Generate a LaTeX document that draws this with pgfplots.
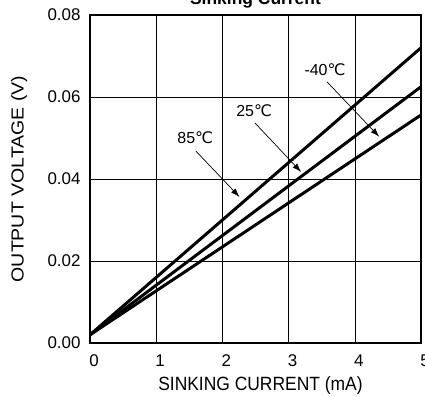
\documentclass[border=0pt]{standalone}
\usepackage{fontspec}
\setmainfont{Liberation Sans}
\newfontfamily\dejavu{DejaVu Sans}
\usepackage{pgfplots}
\pgfplotsset{compat=1.18}
\usetikzlibrary{arrows.meta}
\newcommand{\degC}{{\dejavu ℃}}

\begin{document}
\begin{tikzpicture}
  \begin{axis}[
    scale only axis,
    width=331bp, height=328bp,
    xmin=0, xmax=5, ymin=0, ymax=0.08,
    xtick={0,1,2,3,4,5},
    ytick={0,0.02,0.04,0.06,0.08},
    scaled y ticks=false,
    grid=major,
    major grid style={black, line width=0.6pt},
    axis line style={line width=1.3pt},
    major tick length=0pt,
    tick label style={font=\fontsize{17}{19}\selectfont},
    label style={font=\fontsize{17.5}{20}\selectfont},
    /pgf/number format/assume math mode=true,
    y tick label style={/pgf/number format/fixed, /pgf/number format/fixed zerofill, /pgf/number format/precision=2, anchor=east, xshift=-6bp},
    x tick label style={anchor=center, yshift=-18bp, xshift=4bp},
    xlabel={\scalebox{1}[1.1]{SINKING CURRENT (mA)}},
    ylabel={\scalebox{1.12}[1]{OUTPUT VOLTAGE (V)}},
    xlabel style={at={(axis description cs:0.515,-0.131)}, anchor=center},
    ylabel style={at={(axis description cs:-0.2145,0.5)}, anchor=center},
    title={\textbf{Sinking Current}},
    title style={yshift=-3bp, font=\fontsize{17.5}{20}\selectfont},
    clip=false,
  ]
    % 85 C
    \addplot[black, line width=3pt] coordinates {(0,0.002) (5,0.0720)};
    % 25 C
    \addplot[black, line width=3pt] coordinates {(0,0.002) (5,0.0625)};
    % -40 C
    \addplot[black, line width=3pt] coordinates {(0,0.002) (5,0.0556)};

    \node[font=\fontsize{16}{18}\selectfont] at (axis cs:1.59,0.0500) {85\degC};
    \draw[-{Latex[length=9bp,width=6bp]}, line width=0.7pt] (axis cs:1.60,0.0468) -- (axis cs:2.26,0.0356);
    \node[font=\fontsize{16}{18}\selectfont] at (axis cs:2.48,0.0566) {25\degC};
    \draw[-{Latex[length=9bp,width=6bp]}, line width=0.7pt] (axis cs:2.49,0.0537) -- (axis cs:3.19,0.0417);
    \node[font=\fontsize{16}{18}\selectfont] at (axis cs:3.55,0.0666) {-40\degC};
    \draw[-{Latex[length=9bp,width=6bp]}, line width=0.7pt] (axis cs:3.58,0.0637) -- (axis cs:4.37,0.0503);
  \end{axis}
  \pgfresetboundingbox
  \useasboundingbox (-90bp,-54bp) rectangle (335bp,343bp);
\end{tikzpicture}
\end{document}
